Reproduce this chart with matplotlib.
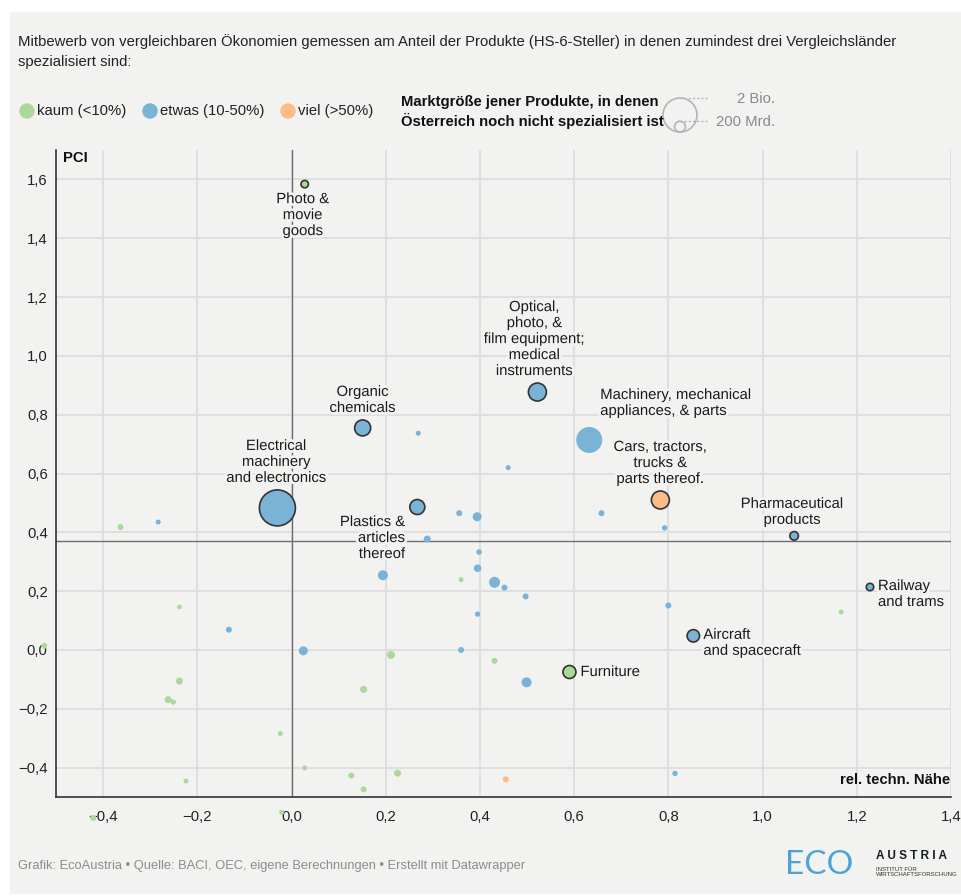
import numpy as np
import matplotlib.pyplot as plt
import matplotlib.patheffects as pe
from matplotlib.patches import Circle, Rectangle
from matplotlib.transforms import IdentityTransform

plt.rcParams['font.family'] = ['Liberation Sans', 'DejaVu Sans']

# Produktgruppen mit Beschriftung
namen = ["Photo &\nmovie\ngoods", "Organic\nchemicals",
         "Electrical\nmachinery\nand electronics", "Plastics &\narticles\nthereof",
         "Optical,\nphoto, &\nfilm equipment;\nmedical\ninstruments",
         "Machinery, mechanical\nappliances, & parts",
         "Cars, tractors,\ntrucks &\nparts thereof.", "Pharmaceutical\nproducts",
         "Railway\nand trams", "Aircraft\nand spacecraft", "Furniture"]
lab_x = [0.028, 0.151, -0.030, 0.267, 0.522, 0.632, 0.783, 1.067, 1.228, 0.853, 0.590]
lab_y = [1.584, 0.755, 0.483, 0.486, 0.877, 0.714, 0.510, 0.388, 0.214, 0.048, -0.075]
lab_markt = [95, 443, 2242, 389, 560, 1170, 560, 128, 95, 266, 292]  # Mrd.
lab_kat = ['kaum', 'etwas', 'etwas', 'etwas', 'etwas', 'etwas', 'viel', 'etwas',
           'etwas', 'etwas', 'kaum']

# uebrige Produktgruppen
pt_x = [-0.363, -0.283, -0.238, -0.133, 0.025, -0.525, -0.238, -0.262, -0.251, -0.024,
        0.028, -0.224, -0.421, -0.021, 0.288, 0.398, 0.395, 0.194, 0.360, 0.431,
        0.452, 0.497, 0.395, 0.360, 0.211, 0.431, 0.499, 0.153, 0.127, 0.225,
        0.455, 0.153, 0.800, 1.167, 0.814, 0.460, 0.658, 0.792, 0.269, 0.356, 0.394]
pt_y = [0.418, 0.435, 0.146, 0.069, -0.003, 0.014, -0.106, -0.169, -0.177, -0.284,
        -0.401, -0.446, -0.571, -0.552, 0.377, 0.333, 0.278, 0.254, 0.239, 0.230,
        0.212, 0.182, 0.122, 0.000, -0.017, -0.037, -0.110, -0.134, -0.427, -0.419,
        -0.440, -0.474, 0.151, 0.129, -0.420, 0.620, 0.465, 0.415, 0.737, 0.465, 0.453]
pt_markt = [62, 43, 37, 62, 140, 62, 85, 85, 50, 43,
            43, 43, 62, 43, 85, 50, 100, 173, 43, 209,
            62, 62, 50, 62, 111, 62, 173, 85, 62, 85,
            62, 62, 62, 43, 50, 43, 62, 50, 43, 62, 140]
pt_kat = ['kaum', 'etwas', 'kaum', 'etwas', 'etwas', 'kaum', 'kaum', 'kaum', 'kaum', 'kaum',
          'kaum', 'kaum', 'kaum', 'kaum', 'etwas', 'etwas', 'etwas', 'etwas', 'kaum', 'etwas',
          'etwas', 'etwas', 'etwas', 'etwas', 'kaum', 'kaum', 'etwas', 'kaum', 'kaum', 'kaum',
          'viel', 'kaum', 'etwas', 'kaum', 'etwas', 'etwas', 'etwas', 'etwas', 'etwas', 'etwas',
          'etwas']

kategorien = ['kaum', 'etwas', 'viel']
kat_text = ['kaum (<10%)', 'etwas (10-50%)', 'viel (>50%)']
pci_linie = 0.37
x_ticks = [-0.4, -0.2, 0.0, 0.2, 0.4, 0.6, 0.8, 1.0, 1.2, 1.4]
y_ticks = [-0.4, -0.2, 0.0, 0.2, 0.4, 0.6, 0.8, 1.0, 1.2, 1.4, 1.6]

farben = {'kaum': '#acd89c', 'etwas': '#7ab3d6', 'viel': '#fcbb87'}
bg = '#f2f2f1'
W, H = 961, 896
FS = 10.7


def radius_px(m):
    return 17 * np.sqrt(np.asarray(m, dtype=float) / 2000)


def groesse(m):
    return (2 * radius_px(m) * 0.72) ** 2


def fx(x):
    return x / W


def fy(y):
    return 1 - y / H


fig = plt.figure(figsize=(W / 100, H / 100), dpi=100)
fig.patch.set_facecolor('white')
fig.add_artist(Rectangle((fx(10), fy(893)), 1, (893 - 12) / H, transform=fig.transFigure,
                         color=bg, zorder=-10))

ax = fig.add_axes([fx(56), fy(797), (951 - 56) / W, (797 - 150) / H])
ax.set_facecolor(bg)
ax.set_xlim(-0.5, 1.4)
ax.set_ylim(-0.5, 1.7)
ax.set_xticks(x_ticks)
ax.set_yticks(y_ticks)
fmt = lambda v: f"{v:.1f}".replace('.', ',').replace('-', '\u2212')
ax.set_xticklabels([fmt(v) for v in x_ticks])
ax.set_yticklabels([fmt(v) for v in y_ticks])
ax.tick_params(length=0, labelsize=FS, colors='#222222')
ax.tick_params(axis='x', pad=9)
ax.tick_params(axis='y', pad=6)
ax.grid(True, color='#dedede', linewidth=1.3)
ax.set_axisbelow(True)
for s in ['top', 'right']:
    ax.spines[s].set_visible(False)
for s in ['left', 'bottom']:
    ax.spines[s].set_color('#333333')
    ax.spines[s].set_linewidth(1.2)

ax.axhline(pci_linie, color='#6e6e6e', linewidth=1, zorder=2)
ax.axvline(0, color='#6e6e6e', linewidth=1, zorder=2)

ax.scatter(pt_x, pt_y, s=groesse(pt_markt), c=[farben[k] for k in pt_kat],
           linewidths=0, zorder=3, clip_on=False)

kanten = ['none' if n.startswith('Machinery') else '#333333' for n in namen]
ax.scatter(lab_x, lab_y, s=groesse(lab_markt), c=[farben[k] for k in lab_kat],
           edgecolors=kanten, linewidths=1.2, zorder=4)

halo = [pe.withStroke(linewidth=4, foreground=bg)]
# (dx, dy in px, ha, va)
lagen = [(-2, 8, 'center', 'top'), (0, -13, 'center', 'bottom'),
         (-1, -23, 'center', 'bottom'), (-12, 8, 'right', 'top'),
         (-3, -14, 'center', 'bottom'), (11, -22, 'left', 'bottom'),
         (0, -14, 'center', 'bottom'), (-2, -9, 'center', 'bottom'),
         (8, -8, 'left', 'top'), (10, -8, 'left', 'top'), (11, 0, 'left', 'center')]
for n, x, y, (dx, dy, ha, va) in zip(namen, lab_x, lab_y, lagen):
    ax.annotate(n, (x, y), xytext=(dx * 0.72, -dy * 0.72), textcoords='offset points',
                ha=ha, va=va, fontsize=FS, color='#1a1a1a', linespacing=1.18,
                multialignment=ha if ha != 'center' else 'center',
                path_effects=halo, zorder=5)

ax.text(0.008, 0.988, 'PCI', transform=ax.transAxes, fontsize=FS, fontweight='bold',
        ha='left', va='center', color='#111111')
ax.text(0.999, 0.026, 'rel. techn. Nähe', transform=ax.transAxes, fontsize=FS,
        fontweight='bold', ha='right', va='center', color='#111111')

# Kopfzeile
fig.text(fx(18), fy(42), 'Mitbewerb von vergleichbaren Ökonomien gemessen am Anteil der Produkte '
         '(HS-6-Steller) in denen zumindest drei Vergleichsländer', fontsize=FS,
         va='center', color='#222222')
fig.text(fx(18), fy(62), 'spezialisiert sind:', fontsize=FS, va='center', color='#222222')

leg_x = [27, 150, 288]
for k, t, lx in zip(kategorien, kat_text, leg_x):
    fig.add_artist(Circle((lx, H - 111), 7, transform=IdentityTransform(),
                          color=farben[k]))
    fig.text(fx(lx + 10), fy(111), t, fontsize=FS, va='center', color='#222222')

fig.text(fx(401), fy(102), 'Marktgröße jener Produkte, in denen', fontsize=FS,
         fontweight='bold', va='center', color='#111111')
fig.text(fx(401), fy(121), 'Österreich noch nicht spezialisiert ist', fontsize=FS,
         fontweight='bold', va='center', color='#111111')

for m, t in zip([2000, 200], ['2 Bio.', '200 Mrd.']):
    r = radius_px(m)
    cy = 132 - r
    fig.add_artist(Circle((680, H - cy), r, transform=IdentityTransform(), fill=False,
                          edgecolor='#b5b5b5', linewidth=1.2))
    fig.add_artist(plt.Line2D([fx(680), fx(708)], [fy(cy - r), fy(cy - r)],
                              transform=fig.transFigure, color='#b5b5b5', linewidth=1,
                              linestyle=(0, (1.5, 1.5))))
    fig.text(fx(775), fy(cy - r + 1), t, fontsize=FS, ha='right', va='center',
             color='#8a8a8a')

# Fusszeile
fig.text(fx(18), fy(866), 'Grafik: EcoAustria • Quelle: BACI, OEC, eigene Berechnungen '
         '• Erstellt mit Datawrapper', fontsize=9.3, va='center', color='#8c8c8c')
fig.text(fx(785), fy(865), 'ECO', fontsize=24, va='center', color='#4ea3d5',
         family=['Lato', 'DejaVu Sans'])
fig.text(fx(876), fy(856), 'A U S T R I A', fontsize=8.5, va='center', fontweight='bold',
         color='#141c26')
fig.text(fx(876), fy(872), 'INSTITUT FÜR\nWIRTSCHAFTSFORSCHUNG', fontsize=4.3,
         va='center', color='#333333', linespacing=1.1)

fig.savefig('out.png', dpi=100, facecolor='white')
